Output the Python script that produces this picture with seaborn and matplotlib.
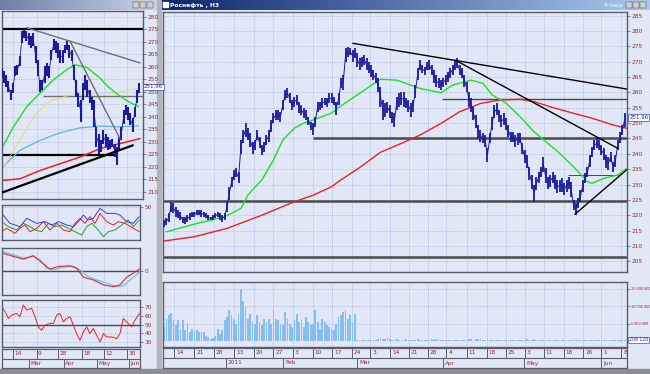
import numpy as np
import seaborn as sns
import matplotlib.pyplot as plt
from matplotlib.colors import LinearSegmentedColormap
from matplotlib.patches import Rectangle

# -------------------------------
# Right window: 4h bars (bar index k)
# -------------------------------
bar_low = [
    216.3, 216.8, 217.9, 221.1, 220.6, 219.5, 219.0, 218.4, 217.4, 217.1,
    217.9, 218.4, 219.5, 219.5, 220.1, 220.1, 219.5, 219.5, 219.0, 218.4,
    218.4, 218.4, 219.0, 219.5, 218.4, 217.9, 218.4, 221.1, 225.0, 229.3,
    231.5, 232.5, 230.4, 240.1, 243.4, 245.6, 244.5, 242.3, 240.1, 241.2,
    244.5, 241.8, 239.6, 240.7, 242.9, 243.9, 247.2, 249.9, 251.0, 251.0,
    250.5, 254.3, 257.5, 258.1, 256.4, 254.3, 255.4, 255.9, 253.2, 252.6,
    251.6, 251.0, 249.4, 247.8, 246.1, 248.8, 253.7, 254.3, 254.8, 255.9,
    255.4, 256.4, 256.4, 255.9, 252.6, 255.9, 261.3, 260.8, 270.0, 271.6,
    272.2, 270.0, 271.1, 268.4, 267.3, 268.4, 268.9, 267.3, 266.2, 265.1,
    264.0, 263.0, 260.2, 255.4, 251.0, 252.1, 253.2, 251.6, 249.9, 248.8,
    254.3, 255.4, 255.9, 255.4, 254.8, 253.7, 252.1, 253.7, 258.1, 264.0,
    267.3, 266.2, 265.7, 267.3, 267.3, 265.7, 263.0, 261.9, 261.3, 260.8,
    261.9, 262.4, 263.5, 264.6, 265.7, 267.3, 267.8, 265.7, 264.6, 261.9,
    260.2, 255.4, 253.7, 251.0, 248.3, 245.0, 243.9, 243.4, 242.3, 237.4,
    243.4, 247.8, 251.6, 252.6, 250.5, 248.8, 249.4, 247.8, 245.6, 243.9,
    243.9, 242.3, 242.9, 243.4, 240.1, 236.9, 235.3, 231.5, 228.7, 224.4,
    228.2, 230.4, 232.5, 234.2, 230.4, 228.7, 229.3, 230.4, 228.7, 227.1,
    227.7, 227.7, 226.6, 227.7, 228.7, 226.0, 221.7, 220.1, 222.2, 224.4,
    227.7, 230.4, 232.5, 235.8, 239.1, 241.2, 241.8, 241.2, 239.6, 238.0,
    235.3, 234.7, 237.4, 234.2, 235.8, 241.2, 243.4, 246.1, 248.8,
]
bar_high = [
    218.4, 219.0, 220.6, 224.4, 223.9, 222.8, 221.7, 221.1, 219.5, 219.5,
    220.1, 220.6, 221.1, 221.1, 221.7, 221.7, 221.7, 221.1, 220.6, 220.1,
    219.5, 220.1, 220.6, 221.1, 220.6, 220.1, 220.6, 224.4, 229.3, 232.5,
    234.7, 235.3, 234.2, 244.5, 247.8, 249.9, 248.3, 246.7, 243.9, 244.5,
    247.8, 245.6, 242.9, 243.9, 246.1, 247.8, 251.0, 253.2, 254.3, 254.3,
    253.7, 257.5, 260.8, 261.3, 259.7, 257.5, 258.6, 259.2, 257.0, 255.9,
    254.8, 254.3, 252.1, 250.5, 249.9, 252.1, 257.0, 257.0, 258.1, 258.1,
    258.1, 259.7, 259.7, 258.6, 257.0, 259.7, 264.6, 265.7, 274.4, 274.9,
    274.4, 273.8, 274.4, 272.7, 271.1, 271.6, 272.2, 271.1, 270.0, 268.9,
    267.3, 266.2, 264.6, 261.9, 257.5, 256.4, 257.0, 255.9, 253.7, 253.2,
    258.6, 259.7, 260.2, 260.2, 258.1, 257.5, 256.4, 257.5, 262.4, 267.8,
    270.6, 268.9, 268.4, 270.0, 270.6, 268.9, 267.3, 265.7, 264.6, 264.0,
    264.6, 265.7, 266.8, 267.8, 268.9, 270.6, 271.1, 268.9, 267.8, 265.7,
    263.5, 260.2, 258.1, 255.4, 252.6, 249.4, 247.8, 246.7, 246.1, 241.8,
    246.7, 252.1, 255.9, 256.4, 254.3, 252.6, 253.2, 251.6, 249.4, 247.2,
    247.2, 246.1, 246.7, 246.7, 243.4, 241.2, 239.6, 235.8, 233.1, 229.8,
    232.5, 234.2, 235.8, 239.1, 235.3, 232.5, 233.1, 234.2, 233.1, 231.5,
    231.5, 232.0, 230.4, 231.5, 232.5, 230.9, 225.0, 223.9, 225.5, 228.2,
    231.5, 233.6, 235.8, 239.6, 242.3, 244.5, 245.0, 244.5, 242.9, 241.8,
    239.6, 239.1, 240.7, 237.4, 239.6, 244.5, 247.2, 249.4, 253.4,
]
# volume, millions of shares
volume_m = [
    4.0, 6.5, 7.4, 8.0, 6.0, 4.6, 6.0, 3.6, 6.0, 3.1,
    5.2, 2.7, 3.6, 2.7, 3.1, 2.7, 2.7, 2.7, 1.6, 1.2,
    0.8, 1.0, 1.4, 3.6, 2.2, 3.1, 6.0, 7.0, 8.9, 7.4,
    6.5, 5.0, 7.9, 15.0, 11.5, 9.8, 6.5, 7.9, 5.5, 5.0,
    7.4, 5.5, 4.6, 6.5, 5.5, 6.5, 5.0, 8.9, 6.5, 6.0,
    5.0, 4.6, 8.4, 6.5, 5.0, 4.1, 6.0, 7.9, 5.5, 6.0,
    4.1, 7.0, 5.5, 4.6, 5.0, 8.9, 5.5, 3.6, 6.5, 5.5,
    4.6, 4.1, 3.6, 3.1, 5.0, 7.0, 7.4, 8.4, 8.9, 6.5,
    7.4, 5.5, 7.9, 0.4,
    0.3, 0.4, 0.3, 0.5, 0.4, 0.3, 0.4, 0.5,
    0.7, 0.9, 0.8, 0.6, 0.9, 0.7, 0.5, 0.8, 0.6, 0.4,
    0.5, 0.4, 0.6, 0.3, 0.5, 0.4, 0.3, 0.6, 0.5, 0.4,
    0.5, 0.3, 0.4, 0.6, 0.5, 0.7, 0.6, 0.5, 0.4, 0.3,
    0.4, 0.3, 0.5, 0.4, 0.3, 0.4, 0.5, 0.3, 0.4, 0.6,
    0.7, 0.5, 0.8, 0.6, 0.7, 0.5, 0.4, 0.6, 0.5, 0.4,
    0.3, 0.4, 0.3, 0.5, 0.4, 0.3, 0.4, 0.3, 0.5, 0.4,
    0.3, 0.4, 0.5, 0.4, 0.6, 0.5, 0.4, 0.7, 0.5, 0.4,
    0.3, 0.4, 0.5, 0.3, 0.4, 0.3, 0.4, 0.5, 0.3, 0.4,
    0.3, 0.4, 0.3, 0.5, 0.6, 0.5, 0.4, 0.3, 0.4, 0.3,
    0.4, 0.3, 0.4, 0.5, 0.3, 0.4, 0.3, 0.4, 0.3, 0.4,
    0.3, 0.4, 0.5, 0.4, 0.3, 0.4, 0.5,
]
fast_ma_k = [1, 13, 26, 33, 36, 42, 47, 51, 56, 60, 64, 72, 76, 84, 93, 100, 106,
             110, 119, 124, 132, 137, 141, 147, 153, 159, 165, 170, 176, 182, 184,
             189, 195, 199]
fast_ma = [214.6, 217.1, 219.5, 222.2, 226.6, 231.5, 238.0, 244.5, 248.4, 250.0,
           251.0, 253.3, 255.6, 259.7, 264.3, 264.0, 262.4, 261.3, 259.9, 262.4,
           264.0, 263.0, 259.2, 256.5, 252.1, 247.2, 243.4, 240.2, 235.8, 230.9,
           230.4, 232.0, 233.1, 235.3]
slow_ma_k = [0, 13, 27, 42, 56, 64, 72, 76, 84, 93, 102, 110, 119, 127, 136, 144,
             153, 159, 167, 176, 184, 193, 199]
slow_ma = [211.6, 213.0, 215.7, 220.0, 224.4, 226.5, 229.3, 231.5, 235.5, 240.5,
           243.4, 246.1, 249.9, 253.7, 256.4, 257.5, 257.8, 257.0, 255.1, 253.2,
           251.6, 249.4, 248.3]
# trend lines (k0, p0, k1, p1)
right_trends = [(81.1, 276.0, 198.9, 261.1), (125.2, 270.5, 195.0, 241.8),
                (176.6, 220.3, 198.7, 234.7)]
# levels (price, k_from, k_to, width)
right_levels = [(258.0, 119.6, 199.5, 1.0), (245.3, 63.9, 199.5, 1.8),
                (224.5, -1, 199.5, 1.8), (206.5, -1, 199.5, 1.8),
                (233.0, 173.6, 195.0, 0.7)]
week_sep = [4.4, 12.9, 21.4, 30.0, 38.6, 47.0, 55.3, 63.9, 72.2, 80.6, 88.5, 97.1,
            105.2, 113.4, 121.3, 130.1, 138.7, 146.8, 155.0, 163.1, 171.7, 180.2,
            188.0, 196.5]
week_labels = ['14', '21', '28', '13', '20', '27', '3', '10', '17', '24', '3', '14',
               '21', '28', '4', '11', '18', '25', '3', '11', '18', '26', '1', '8']
month_sep = [26.4, 51.3, 83.0, 119.9, 154.7, 187.9]
month_labels = ['2011', 'Feb', 'Mar', 'Apr', 'May', 'Jun']

# -------------------------------
# Left window: daily bars (bar index j)
# -------------------------------
day_low = [255.4, 253.4, 252.0, 250.0, 246.7, 249.3, 256.1, 256.8, 260.1, 269.5,
           271.5, 270.2, 268.8, 267.5, 268.2, 261.4, 256.1, 250.0, 250.7, 253.4,
           256.1, 255.4, 262.8, 266.8, 265.5, 263.5, 261.4, 261.4, 265.5, 266.8,
           263.5, 262.1, 254.7, 248.0, 244.0, 237.9, 246.7, 250.7, 248.0, 245.3,
           242.6, 235.9, 227.8, 225.2, 225.8, 229.2, 227.8, 226.5, 227.2, 227.8,
           223.8, 220.5, 226.5, 230.5, 237.2, 240.6, 238.6, 236.6, 233.9, 240.0,
           245.3, 249.3]
day_high = [259.4, 258.1, 256.7, 254.1, 250.7, 253.4, 260.1, 260.8, 264.1, 274.2,
            274.9, 274.2, 273.5, 272.2, 273.5, 268.2, 262.8, 254.7, 254.7, 260.1,
            261.4, 260.1, 266.8, 270.9, 270.2, 269.5, 266.8, 266.8, 268.8, 270.2,
            268.8, 266.8, 260.8, 254.7, 249.3, 246.7, 253.4, 256.7, 254.7, 250.7,
            248.0, 246.7, 235.9, 233.2, 230.5, 234.6, 233.2, 231.9, 230.5, 231.2,
            229.2, 227.8, 231.9, 235.9, 242.6, 244.6, 244.0, 241.3, 239.3, 244.0,
            250.7, 253.4]
left_green_j = [0, 5.2, 11.1, 17.0, 22.9, 28.8, 32.5, 37.7, 43.6, 47.3, 51.7, 56.1, 60.6]
left_green = [227.2, 235.9, 244.0, 249.4, 254.7, 258.8, 260.8, 259.7, 255.4, 251.8,
              248.7, 246.0, 244.0]
left_cyan_j = [0.7, 8.1, 17.0, 25.8, 34.7, 43.6, 52.4, 60.6]
left_cyan = [220.0, 226.5, 230.5, 233.5, 235.5, 236.2, 235.9, 236.3]
left_yellow_j = [0, 8, 15, 22, 30, 40, 50, 61]
left_yellow = [218.4, 230.5, 241.0, 246.5, 248.5, 249.0, 249.5, 251.4]
left_red_j = [0, 8.1, 17.0, 25.8, 34.7, 43.6, 52.4, 61.3]
left_red = [214.4, 215.1, 218.4, 221.1, 223.8, 227.2, 229.2, 231.2]
left_trends = [(11.1, 275.6, 61.3, 261.5, '#707070', 1.0),
               (30.3, 270.2, 52.4, 231.2, '#707070', 1.0),
               (-0.7, 209.3, 58.1, 228.5, 'black', 1.6)]
left_levels = [(275.0, -1, 63, 1.6, 'black'), (248.3, 18.5, 63, 1.0, '#707070'),
               (224.5, -1, 50.2, 1.6, 'black')]

# DMI panel
dmi_blue_j = [0, 3.7, 8.1, 11.1, 15.5, 19.2, 22.2, 25.1, 28.8, 31.8, 34.7, 36.2,
              38.4, 40.6, 43.6, 46.5, 50.2, 52.4, 55.4, 58.3, 61]
dmi_blue = [42, 30, 26, 36, 30, 32, 28, 32, 28, 26, 34, 40, 34, 36, 48, 42, 42, 40,
            32, 30, 38]
dmi_red_j = [0, 2.2, 5.9, 8.1, 10.3, 12.6, 15.5, 18.5, 21.4, 24.4, 27.3, 30.3, 32.5,
             34.7, 36.9, 39.1, 41.4, 43.6, 46.5, 49.5, 51.7, 54.7, 58.3, 61]
dmi_red = [20, 24, 18, 24, 28, 20, 24, 32, 22, 30, 22, 20, 30, 36, 30, 38, 30, 42,
           32, 28, 32, 30, 24, 20]
dmi_green_j = [0, 3, 6.6, 9.6, 12.6, 14.8, 17.7, 20.7, 23.6, 26.6, 29.5, 32.5, 35.5,
               37.7, 39.9, 42.1, 45.1, 47.3, 50.2, 53.2, 56.1, 58.3, 61]
dmi_green = [32, 26, 22, 30, 26, 22, 20, 30, 26, 28, 24, 20, 16, 26, 30, 24, 14, 20,
             22, 28, 34, 26, 34]
# MACD panel
macd_sig_j = [0, 5.2, 9.6, 14, 17, 19.9, 22.9, 27.3, 31.8, 34.7, 37.7, 42.1, 46.5,
              51, 53.9, 56.9, 59.8, 61]
macd_sig = [5.8, 4.8, 3.8, 4.3, 3.3, 0.8, 0.3, 1.1, 1.3, 0.3, -1.5, -2.7, -3.7, -4.7,
            -4.5, -2.7, -1.2, -0.2]
macd_j = [0, 5.2, 9.6, 14, 18.5, 21.4, 25.1, 30.3, 33.2, 36.2, 40.6, 45.1, 49.5, 52.4,
          55.4, 58.3, 61]
macd = [5.3, 4.3, 3.5, 4.5, 2.1, 0.5, 1.3, 1.5, 0.8, -1.9, -2.7, -4.2, -4.7, -4.2,
        -1.9, -0.7, 0.5]
# RSI panel
rsi_j = [0, 1.5, 3, 4.4, 6.6, 8.1, 9.6, 11.1, 13.3, 14.8, 16.2, 17.7, 19.2, 21.4,
         22.9, 24.4, 25.8, 27.3, 28.8, 30.3, 31.8, 33.2, 34.7, 36.2, 37.7, 39.1, 40.6,
         42.1, 43.6, 45.1, 46.5, 48.7, 51, 52.4, 53.9, 56.1, 57.6, 59.1, 61]
rsi = [70.8, 65, 57.2, 61.1, 63, 59.1, 72.7, 66.9, 68.8, 59.1, 47.5, 43.6, 49.4, 51.4,
       51.4, 61.1, 63, 53.3, 57.2, 59.1, 49.4, 39.7, 31.9, 41.6, 47.5, 39.7, 45.5,
       37.8, 30, 39.7, 35.8, 35.8, 33.9, 39.7, 57.2, 51.4, 47.5, 55.2, 63]
left_day_sep = [5.2, 15.5, 25.1, 35.5, 45.5, 55.4]
left_day_labels = ['14', '9', '28', '18', '12', '30']
left_month_sep = [12.3, 27.6, 42.1, 56.4]
left_month_labels = ['Mar', 'Apr', 'May', 'Jun']

# -------------------------------
# Style
# -------------------------------
W, H = 650, 374
BG = '#e1e7f7'
FRAME = '#5c5c6c'
GRID = '#9fb3e6'
LABEL = '#8a3030'
NAVY = '#1b1b9e'
GREEN = '#1fe01f'
RED = '#f02020'


def rect(x0, y0, x1, y1):
    return [x0 / W, 1 - y1 / H, (x1 - x0) / W, (y1 - y0) / H]


def style_panel(ax, xlim, ylim, yticks, ylabels, xgrid, size=4.2):
    ax.set_facecolor(BG)
    ax.set_xlim(xlim)
    ax.set_ylim(ylim)
    for s in ax.spines.values():
        s.set_color(FRAME)
        s.set_linewidth(1.0)
    ax.yaxis.tick_right()
    ax.set_yticks(yticks)
    ax.set_yticklabels(ylabels)
    ax.set_xticks(xgrid)
    ax.tick_params(axis='x', labelbottom=False, length=0)
    ax.tick_params(axis='y', length=2, width=0.5, color=FRAME, labelsize=size,
                   labelcolor=LABEL, pad=1.5)
    ax.grid(True, color=GRID, linestyle=(0, (1, 1.5)), linewidth=0.6)
    ax.set_axisbelow(True)
    ax.set_xlabel('')
    ax.set_ylabel('')


def line(ax, x, y, color, lw):
    sns.lineplot(x=x, y=y, ax=ax, color=color, linewidth=lw, legend=False,
                 sort=False, estimator=None)


def date_strip(ax, xlim, seps1, labs1, seps2, labs2, off):
    ax.set_facecolor(BG)
    ax.set_xlim(xlim)
    ax.set_ylim(0, 2)
    ax.set_xticks([])
    ax.set_yticks([])
    for s in ax.spines.values():
        s.set_color(FRAME)
        s.set_linewidth(0.9)
    ax.axhline(1, color=FRAME, lw=0.8)
    ax.vlines(seps1, 1, 2, color=FRAME, lw=0.7)
    ax.vlines(seps2, 0, 1, color=FRAME, lw=0.7)
    for s, t in zip(seps1, labs1):
        ax.text(s + off, 1.5, t, fontsize=4.2, color=LABEL, va='center', ha='left')
    for s, t in zip(seps2, labs2):
        ax.text(s + off, 0.5, t, fontsize=4.2, color=LABEL, va='center', ha='left')


def value_box(ax, x, y, text, size=4.0):
    ax.text(x, y, text, transform=ax.get_yaxis_transform(), fontsize=size,
            color='#2020a0', va='center', ha='left', clip_on=False,
            bbox=dict(boxstyle='square,pad=0.15', fc='white', ec='#3050c0', lw=0.5))


sns.set_theme(style='white')
plt.rcParams['font.family'] = ['DejaVu Sans']

fig = plt.figure(figsize=(6.5, 3.74), dpi=100)
fig.patch.set_facecolor(BG)

# window chrome
chrome = fig.add_axes([0, 0, 1, 1])
chrome.set_xlim(0, W)
chrome.set_ylim(H, 0)
chrome.axis('off')
grad = np.linspace(0, 1, 256).reshape(1, -1)
chrome.imshow(grad, extent=(160, 650, 10, 0), aspect='auto',
              cmap=LinearSegmentedColormap.from_list('t', ['#0a246a', '#a6caf0']))
chrome.imshow(grad, extent=(0, 157, 10, 0), aspect='auto',
              cmap=LinearSegmentedColormap.from_list('t2', ['#6e7fa6', '#c9d2e6']))
chrome.add_patch(Rectangle((157, 0), 4, H, color='#b4b4bc'))
chrome.add_patch(Rectangle((0, 369), W, 5, color='#8e8e96'))
chrome.add_patch(Rectangle((163, 2), 5, 5, color='white'))
chrome.text(170, 5, 'Роснефть , Н3', color='white', fontsize=4.3, fontweight='bold',
            va='center')
chrome.text(622, 5, '4 часа', color='white', fontsize=4.0, va='center', ha='right')
for bx in [626, 633, 640]:
    chrome.add_patch(Rectangle((bx, 2), 6, 6, fc='#d4d0c8', ec='#404040', lw=0.3))
for bx in [133, 140, 147]:
    chrome.add_patch(Rectangle((bx, 2), 6, 6, fc='#d4d0c8', ec='#404040', lw=0.3))
chrome.set_zorder(-1)

# -------------------------------
# Right window
# -------------------------------
k_all = np.arange(len(bar_low))
rx = (-0.5, 199.0)
ax = fig.add_axes(rect(163, 12, 627, 272))
style_panel(ax, rx, (201.5, 286.2), list(range(205, 286, 5)),
            [str(v) for v in range(205, 286, 5)], week_sep)
for p, a, b, w in right_levels:
    ax.hlines(p, a, b, color='#4a4a4a', lw=w, zorder=2)
line(ax, slow_ma_k, slow_ma, RED, 1.0)
line(ax, fast_ma_k, fast_ma, GREEN, 1.0)
ax.vlines(k_all, bar_low, bar_high, color=NAVY, lw=1.3, zorder=3)
mid = (np.array(bar_low) + np.array(bar_high)) / 2
line(ax, k_all, mid, NAVY, 0.7)
for k0, p0, k1, p1 in right_trends:
    ax.plot([k0, k1], [p0, p1], color='black', lw=1.0, zorder=4)
value_box(ax, 1.005, 251.8, '251.96')

axv = fig.add_axes(rect(163, 282, 627, 347))
style_panel(axv, rx, (-1.6, 16.9), [5, 10, 15],
            ['5 000 000', '10 000 000', '15 000 000'], week_sep, size=2.9)
for t in axv.get_yticklabels():
    t.set_fontfamily('Liberation Sans')
axv.tick_params(axis='y', pad=0.8)
axv.bar(k_all, volume_m, width=0.75, color='#86bdf3', edgecolor='none', zorder=2)
value_box(axv, 1.004, 0.4, '208 120', size=3.3)

axd = fig.add_axes(rect(163, 348, 627, 368))
date_strip(axd, rx, week_sep, week_labels, month_sep, month_labels, 0.9)

# -------------------------------
# Left window
# -------------------------------
j_all = np.arange(len(day_low))
lx = (0.15, 62.6)
sx = (0.15, 61.3)
axl = fig.add_axes(rect(2, 11, 143, 199))
style_panel(axl, lx, (207.0, 282.3), list(range(210, 281, 5)),
            [str(v) for v in range(210, 281, 5)], left_day_sep)
for p, a, b, w, c in left_levels:
    axl.hlines(p, a, b, color=c, lw=w, zorder=2)
line(axl, left_red_j, left_red, RED, 1.1)
line(axl, left_cyan_j, left_cyan, '#5fb4ec', 0.9)
line(axl, left_yellow_j, left_yellow, '#e6dc5a', 0.6)
line(axl, left_green_j, left_green, GREEN, 1.0)
axl.vlines(j_all, day_low, day_high, color=NAVY, lw=1.5, zorder=3)
dmid = (np.array(day_low) + np.array(day_high)) / 2
line(axl, j_all, dmid, NAVY, 0.6)
for j0, p0, j1, p1, c, w in left_trends:
    axl.plot([j0, j1], [p0, p1], color=c, lw=w, zorder=4)
value_box(axl, 1.005, 251.9, '251.96')

ax1 = fig.add_axes(rect(2, 205, 140, 240))
style_panel(ax1, sx, (10, 52), [50], ['50'], left_day_sep)
line(ax1, dmi_green_j, dmi_green, '#2aa02a', 0.7)
line(ax1, dmi_red_j, dmi_red, RED, 0.7)
line(ax1, dmi_blue_j, dmi_blue, '#3a3af0', 0.7)

ax2 = fig.add_axes(rect(2, 248, 140, 295))
style_panel(ax2, sx, (-7.2, 6.8), [0], ['0'], left_day_sep)
ax2.axhline(0, color='#4a4a4a', lw=1.0)
line(ax2, macd_sig_j, macd_sig, '#66c4f0', 0.9)
line(ax2, macd_j, macd, RED, 0.8)

ax3 = fig.add_axes(rect(2, 300, 140, 347))
style_panel(ax3, sx, (24.2, 78.5), [30, 40, 50, 60, 70],
            ['30', '40', '50', '60', '70'], left_day_sep)
ax3.axhline(50, color='#4a4a4a', lw=1.0)
line(ax3, rsi_j, rsi, RED, 0.7)

axld = fig.add_axes(rect(2, 349, 140, 368))
date_strip(axld, sx, left_day_sep, left_day_labels, left_month_sep,
           left_month_labels, 0.6)

fig.savefig('out.png', dpi=100, facecolor=fig.get_facecolor())
